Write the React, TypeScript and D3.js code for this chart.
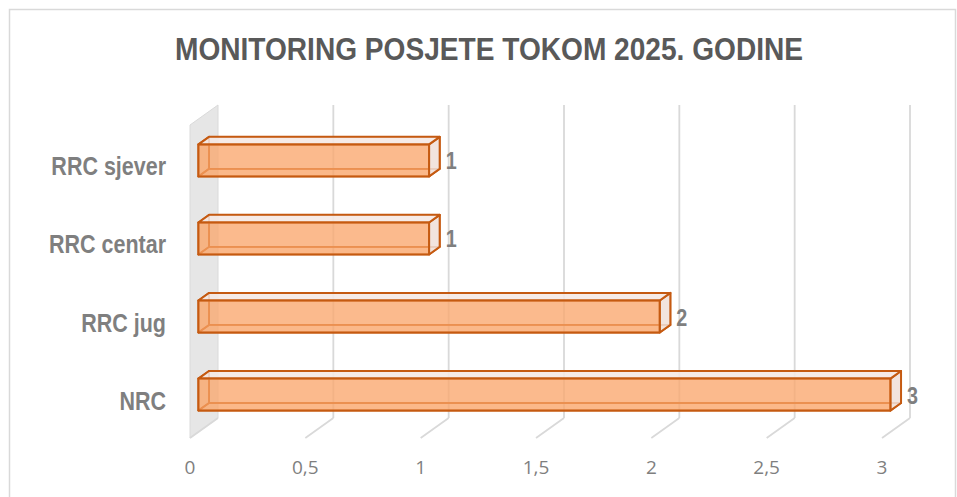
import React from 'react';
import * as d3 from 'd3';

const categories = ['RRC sjever', 'RRC centar', 'RRC jug', 'NRC'];
const values = [1, 1, 2, 3];
const ticks = [0, 0.5, 1, 1.5, 2, 2.5, 3];
const tickLabels = ['0', '0,5', '1', '1,5', '2', '2,5', '3'];
const title = 'MONITORING POSJETE TOKOM 2025. GODINE';

const W = 957;
const H = 497;
// floor: front edge at y=438, back edge at y=418
const DX = 28;
const DY = -20;
const Z0 = 0.3;
const Z1 = 0.68;
const BAR_H = 32;
const NARROW = 0.86; // no narrow font installed, squeeze horizontally
const font = "'Liberation Sans', Arial, sans-serif";

const App = () => {
  const x = d3.scaleLinear().domain([0, 3]).range([190, 882]);
  const y = d3.scaleBand<string>().domain(categories).range([127, 440]).paddingInner(0.59).paddingOuter(0.3);

  // project value / plane-y / depth into screen coords
  const p = (v: number, yy: number, z: number) => [x(v) + DX * z, yy + DY * z];
  const poly = (pts: number[][]) => pts.map(q => q.join(',')).join(' ');

  const floorFront = 438;
  const floorBack = floorFront + DY;
  const wallTop = 105;

  const stroke = '#C55A11';

  return (
    <svg width={W} height={H} style={{ position: 'absolute', left: 0, top: 0, background: '#fff' }}>
      <rect x={9.5} y={9.5} width={946} height={H} fill="#fff" stroke="#d9d9d9" strokeWidth={1.5} />

      <text x={489} y={60} textAnchor="middle" fontFamily={font} fontWeight="bold" fontSize={31}
        fill="#595959" textLength={628} lengthAdjust="spacingAndGlyphs">{title}</text>

      {/* side wall */}
      <polygon points={poly([[x(0), wallTop - DY], [x(0) + DX, wallTop], [x(0) + DX, floorBack], [x(0), floorFront]])}
        fill="#e6e6e6" stroke="#dadada" strokeWidth={1} />

      {/* gridlines on back wall + floor ticks */}
      {ticks.map(t => (
        <g key={t}>
          {t > 0 && (
            <line x1={x(t) + DX} x2={x(t) + DX} y1={wallTop} y2={floorBack} stroke="#d9d9d9" strokeWidth={1.8} />
          )}
          <line x1={x(t) + DX} x2={x(t)} y1={floorBack} y2={floorFront} stroke="#d9d9d9" strokeWidth={1.8} />
        </g>
      ))}

      {/* tick labels */}
      {ticks.map((t, i) => (
        <text key={t} x={x(t)} y={474} textAnchor="middle" fontFamily="'Open Sans', 'Noto Sans', sans-serif"
          fontSize={19} fill="#7f7f7f">{tickLabels[i]}</text>
      ))}

      {/* category labels */}
      {categories.map(c => (
        <text key={c} transform={`translate(166,${(y(c) as number) + DY * Z0 + BAR_H - 1}) scale(${NARROW},1)`}
          textAnchor="end" fontFamily={font} fontWeight="bold" fontSize={25} fill="#7f7f7f">{c}</text>
      ))}

      {/* bars as transparent 3D boxes */}
      {categories.map((c, i) => {
        const v = values[i];
        const t = y(c) as number;
        const b = t + BAR_H;
        const fTL = p(0, t, Z0), fTR = p(v, t, Z0), fBR = p(v, b, Z0), fBL = p(0, b, Z0);
        const bTL = p(0, t, Z1), bTR = p(v, t, Z1), bBR = p(v, b, Z1), bBL = p(0, b, Z1);
        return (
          <g key={c} strokeLinejoin="round">
            <polygon points={poly([bTL, bTR, bBR, bBL])} fill="rgba(248,200,170,0.25)" stroke={stroke} strokeWidth={1.8} />
            <polygon points={poly([fTL, bTL, bBL, fBL])} fill="rgba(248,180,130,0.3)" stroke={stroke} strokeWidth={1.8} />
            <polygon points={poly([fBL, fBR, bBR, bBL])} fill="rgba(248,180,130,0.3)" stroke={stroke} strokeWidth={1.8} />
            <polygon points={poly([fTR, bTR, bBR, fBR])} fill="rgba(240,226,220,0.85)" stroke={stroke} strokeWidth={2} />
            <polygon points={poly([fTL, fTR, bTR, bTL])} fill="rgba(244,234,230,0.85)" stroke={stroke} strokeWidth={2} />
            <polygon points={poly([fTL, fTR, fBR, fBL])} fill="rgba(250,165,105,0.72)" stroke={stroke} strokeWidth={2} />
            <text transform={`translate(${bTR[0] + 6},${(t + b) / 2 + DY * Z0 + 9}) scale(${NARROW},1)`}
              fontFamily={font} fontWeight="bold" fontSize={23} fill="#7f7f7f">{v}</text>
          </g>
        );
      })}
    </svg>
  );
};

export default App;
